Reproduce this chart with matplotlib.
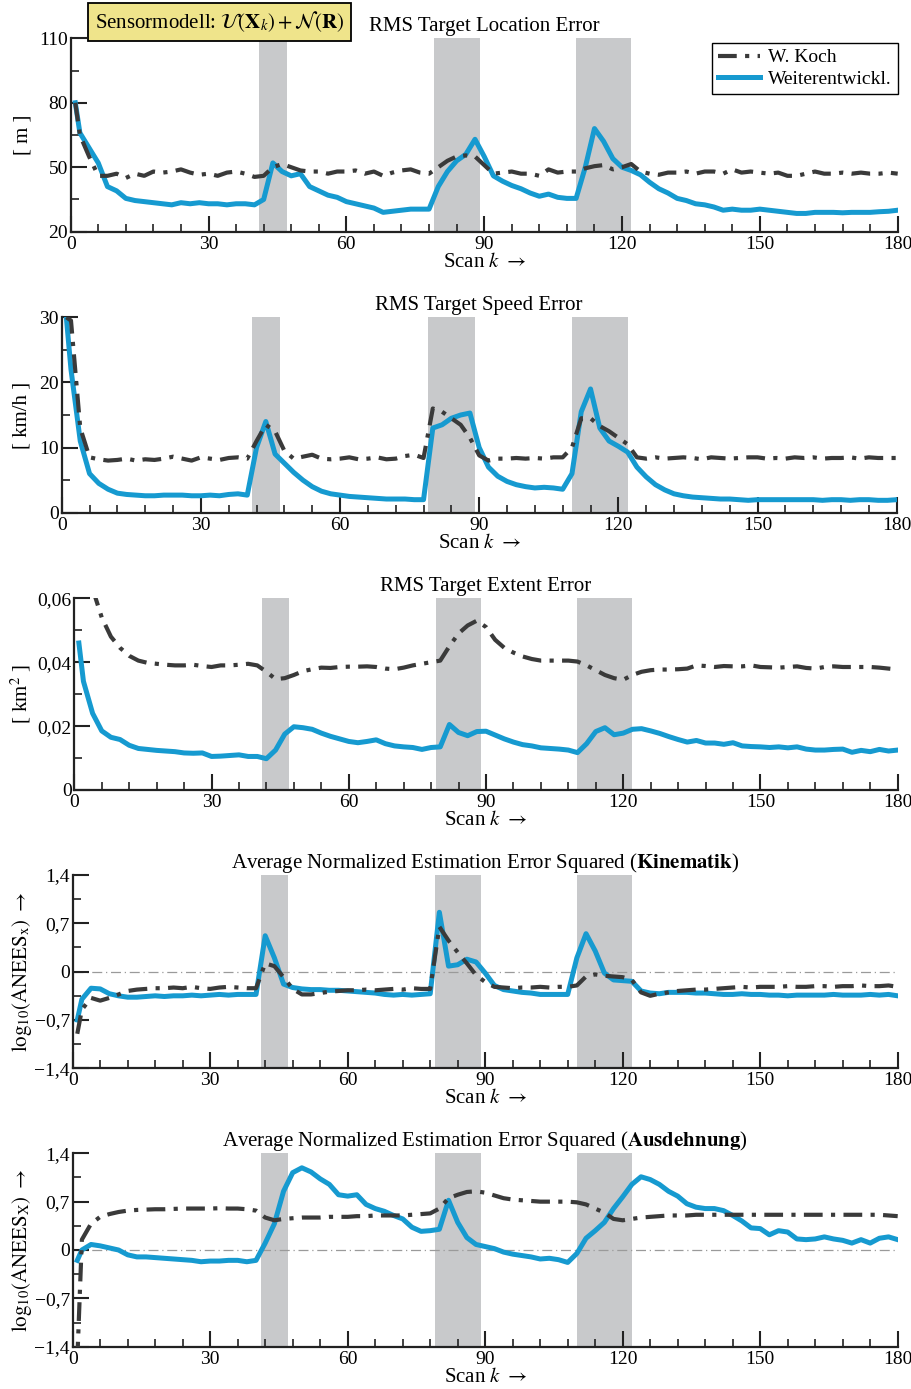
import numpy as np
import matplotlib.pyplot as plt
from matplotlib.ticker import FixedLocator

plt.rcParams['font.family'] = ['Liberation Serif', 'DejaVu Serif']
plt.rcParams['mathtext.fontset'] = 'stix'

# scan index (every 2nd scan)
scans = [1] + list(range(2, 181, 2))

# shaded intervals (scans)
shade = [(41, 47), (79, 89), (110, 122)]

# RMS location error [m]
loc_koch = [80, 65, 55, 46, 46, 47, 45, 47, 46, 48,
            47.5, 48, 49, 47.5, 46.5, 47, 46, 47.5, 48, 47,
            45.5, 46, 50, 51.5, 50, 48.5, 48, 48, 47, 48,
            48, 48.5, 47, 48, 46, 47.5, 48.5, 49, 47.5, 47,
            50, 53, 55, 55.5, 55, 51, 47, 47.5, 48, 47,
            47, 46, 49, 47.5, 48, 48, 49.5, 50.5, 51, 49,
            50, 51.5, 48, 47, 46.5, 47.5, 47.5, 48, 47, 48,
            48, 47, 49, 47.5, 48, 47.5, 47, 47.5, 46, 46,
            47, 48, 47, 47, 47.5, 47, 47.5, 47, 47, 47.5,
            47]
loc_new = [80, 66, 59, 52, 41, 39, 35.5, 34.5, 34, 33.5,
           33, 32.5, 33.5, 33, 33.5, 33, 33, 32.5, 33, 33,
           32.5, 35, 52, 48, 46, 47, 41, 39, 37, 36,
           34, 33, 32, 31, 29, 29.5, 30, 30.5, 30.5, 30.5,
           41, 48, 53, 56, 63, 55, 46, 43.5, 41.5, 40,
           38, 36.5, 37.5, 36, 35.5, 35.5, 50, 68, 62, 54,
           50, 48.5, 46.5, 43, 40, 38, 35.5, 34.5, 33, 32.5,
           31.5, 30, 30.5, 30, 30, 30.5, 30, 29.5, 29, 28.5,
           28.5, 29, 29, 29, 28.8, 29, 29, 29, 29.3, 29.5,
           30]

# RMS speed error [km/h]
spd_koch = [30, 29.5, 13, 8.5, 8.2, 8.0, 8.1, 8.3, 8.0, 8.2,
            8.1, 8.3, 8.6, 8.3, 8.0, 8.5, 8.3, 8.1, 8.4, 8.5,
            8.3, 11, 13.5, 12.5, 9.5, 8.3, 8.6, 8.9, 8.3, 8.2,
            8.3, 8.5, 8.2, 8.3, 8.5, 8.2, 8.3, 8.7, 8.9, 8.4,
            16, 15.5, 14.5, 13.5, 11.5, 8.8, 8.0, 8.3, 8.3, 8.4,
            8.3, 8.4, 8.3, 8.5, 8.5, 10, 14.5, 14.5, 13.3, 12.5,
            11.5, 10.5, 8.5, 8.3, 8.5, 8.3, 8.4, 8.5, 8.4, 8.2,
            8.5, 8.4, 8.3, 8.4, 8.5, 8.5, 8.3, 8.4, 8.3, 8.5,
            8.4, 8.5, 8.3, 8.4, 8.4, 8.5, 8.3, 8.5, 8.4, 8.4,
            8.4]
spd_new = [30, 22, 11, 6, 4.5, 3.6, 3, 2.8, 2.7, 2.6,
           2.6, 2.7, 2.7, 2.7, 2.6, 2.6, 2.7, 2.6, 2.8, 2.9,
           2.7, 10, 14, 9, 7.6, 6.2, 5.0, 4, 3.3, 2.9,
           2.7, 2.5, 2.4, 2.3, 2.2, 2.1, 2.1, 2.1, 2.0, 2.0,
           13, 13.5, 14.5, 15, 15.3, 10, 7, 5.6, 4.8, 4.3,
           4, 3.8, 3.9, 3.8, 3.6, 6, 15.5, 19, 13, 11,
           10.2, 9.3, 7, 5.5, 4.3, 3.5, 2.9, 2.6, 2.4, 2.3,
           2.2, 2.1, 2.1, 2.0, 1.9, 2.0, 2.0, 2.0, 2.0, 2.0,
           2.0, 2.0, 1.9, 2.0, 2.0, 1.9, 2.0, 2.0, 1.9, 1.9,
           2.0]

# RMS extent error [km^2]
ext_koch = [0.075, 0.07, 0.063, 0.054, 0.048, 0.0445, 0.042, 0.0405, 0.0398, 0.0395,
            0.0392, 0.039, 0.039, 0.0392, 0.0388, 0.0385, 0.039, 0.039, 0.0392, 0.0395,
            0.039, 0.037, 0.0347, 0.035, 0.036, 0.0372, 0.0378, 0.0383, 0.0382, 0.0385,
            0.0386, 0.0386, 0.0387, 0.0385, 0.038, 0.0378, 0.0383, 0.039, 0.0395, 0.04,
            0.0405, 0.045, 0.049, 0.0515, 0.053, 0.051, 0.047, 0.0445, 0.043, 0.0418,
            0.041, 0.0405, 0.0405, 0.0405, 0.0405, 0.0402, 0.039, 0.0375, 0.036, 0.035,
            0.0345, 0.036, 0.037, 0.0375, 0.0377, 0.0377, 0.0378, 0.038, 0.039, 0.0388,
            0.0385, 0.0388, 0.0387, 0.0387, 0.039, 0.0385, 0.0384, 0.0383, 0.0385, 0.0387,
            0.0382, 0.038, 0.0385, 0.0387, 0.0385, 0.0385, 0.0385, 0.0385, 0.0383, 0.038,
            0.0377]
ext_new = [0.046, 0.034, 0.024, 0.0185, 0.0165, 0.0158, 0.014, 0.013, 0.0127, 0.0124,
           0.0122, 0.012, 0.0116, 0.0115, 0.0116, 0.0105, 0.0106, 0.0108, 0.011, 0.0105,
           0.0105, 0.0098, 0.0125, 0.0175, 0.0198, 0.0195, 0.019, 0.0178, 0.0168, 0.016,
           0.0152, 0.0148, 0.0152, 0.0157, 0.0145, 0.0138, 0.0135, 0.0133, 0.0127, 0.0133,
           0.0135, 0.0205, 0.018, 0.017, 0.0183, 0.0184, 0.0172, 0.016, 0.015, 0.0142,
           0.0138, 0.0132, 0.013, 0.0128, 0.0125, 0.0117, 0.0145, 0.0183, 0.0195, 0.0173,
           0.0178, 0.019, 0.0192, 0.0185, 0.0177, 0.0167, 0.0158, 0.015, 0.0155, 0.0147,
           0.0147, 0.0143, 0.0148, 0.0138, 0.0136, 0.0135, 0.0133, 0.0135, 0.0132, 0.0135,
           0.0128, 0.0125, 0.0125, 0.0127, 0.0128, 0.0118, 0.0124, 0.012, 0.0127, 0.0122,
           0.0125]

# log10 ANEES kinematics
kin_koch = [-0.9, -0.55, -0.38, -0.42, -0.38, -0.33, -0.28, -0.26, -0.25, -0.24,
            -0.24, -0.23, -0.24, -0.22, -0.24, -0.25, -0.23, -0.22, -0.23, -0.24,
            -0.24, 0.12, 0.08, -0.08, -0.25, -0.33, -0.33, -0.31, -0.29, -0.28,
            -0.27, -0.27, -0.26, -0.27, -0.26, -0.25, -0.26, -0.24, -0.25, -0.25,
            0.65, 0.45, 0.28, 0.12, -0.05, -0.15, -0.22, -0.23, -0.24, -0.23,
            -0.23, -0.22, -0.23, -0.22, -0.22, -0.2, -0.07, -0.04, -0.06, -0.07,
            -0.08, -0.12, -0.3, -0.35, -0.32, -0.3, -0.28, -0.27, -0.26, -0.26,
            -0.25, -0.24, -0.23, -0.22, -0.23, -0.22, -0.22, -0.22, -0.21, -0.22,
            -0.22, -0.21, -0.21, -0.22, -0.21, -0.21, -0.2, -0.21, -0.21, -0.2,
            -0.22]
kin_new = [-0.7, -0.4, -0.24, -0.25, -0.32, -0.35, -0.37, -0.37, -0.36, -0.35,
           -0.36, -0.35, -0.35, -0.34, -0.35, -0.34, -0.33, -0.34, -0.33, -0.33,
           -0.33, 0.52, 0.2, -0.18, -0.23, -0.25, -0.26, -0.26, -0.27, -0.27,
           -0.28, -0.29, -0.3, -0.31, -0.33, -0.34, -0.33, -0.34, -0.33, -0.32,
           0.86, 0.08, 0.1, 0.18, 0.14, -0.02, -0.2, -0.26, -0.28, -0.3,
           -0.31, -0.33, -0.33, -0.33, -0.33, 0.2, 0.55, 0.3, -0.02, -0.12,
           -0.13, -0.14, -0.28, -0.31, -0.32, -0.3, -0.3, -0.3, -0.31, -0.31,
           -0.32, -0.33, -0.33, -0.32, -0.33, -0.33, -0.34, -0.34, -0.35, -0.34,
           -0.34, -0.34, -0.34, -0.33, -0.34, -0.34, -0.34, -0.33, -0.34, -0.33,
           -0.35]

# log10 ANEES extent
aus_koch = [-1.6, 0.15, 0.38, 0.48, 0.52, 0.55, 0.57, 0.58, 0.585, 0.59,
            0.59, 0.595, 0.6, 0.6, 0.6, 0.6, 0.605, 0.6, 0.6, 0.59,
            0.57, 0.47, 0.43, 0.45, 0.46, 0.47, 0.47, 0.47, 0.48, 0.48,
            0.48, 0.49, 0.49, 0.5, 0.5, 0.5, 0.5, 0.51, 0.52, 0.53,
            0.6, 0.75, 0.8, 0.84, 0.85, 0.83, 0.79, 0.75, 0.73, 0.72,
            0.71, 0.7, 0.7, 0.7, 0.7, 0.69, 0.66, 0.6, 0.54, 0.45,
            0.43, 0.45, 0.47, 0.48, 0.49, 0.5, 0.5, 0.5, 0.51, 0.51,
            0.51, 0.51, 0.51, 0.51, 0.51, 0.51, 0.51, 0.51, 0.51, 0.51,
            0.51, 0.51, 0.51, 0.51, 0.51, 0.51, 0.51, 0.51, 0.51, 0.5,
            0.49]
aus_new = [-0.15, 0.0, 0.08, 0.06, 0.03, 0.0, -0.07, -0.1, -0.1, -0.11,
           -0.12, -0.13, -0.14, -0.15, -0.17, -0.16, -0.16, -0.15, -0.15, -0.17,
           -0.15, 0.1, 0.38, 0.85, 1.12, 1.19, 1.13, 1.03, 0.95, 0.8,
           0.78, 0.8, 0.66, 0.6, 0.56, 0.5, 0.45, 0.33, 0.27, 0.28,
           0.3, 0.72, 0.4, 0.18, 0.08, 0.05, 0.02, -0.03, -0.06, -0.08,
           -0.1, -0.13, -0.12, -0.14, -0.18, -0.05, 0.17, 0.28, 0.4, 0.6,
           0.77, 0.95, 1.06, 1.02, 0.95, 0.85, 0.78, 0.67, 0.62, 0.6,
           0.6, 0.57, 0.5, 0.42, 0.32, 0.31, 0.22, 0.28, 0.26, 0.16,
           0.15, 0.16, 0.19, 0.16, 0.14, 0.1, 0.15, 0.1, 0.17, 0.19,
           0.15]

anees_ticks = [-1.4, -0.7, 0, 0.7, 1.4]
anees_labels = ['\u22121,4', '\u22120,7', '0', '0,7', '1,4']

panels = [
    dict(koch=loc_koch, new=loc_new, box=(70.7, 897.7, 38.3, 231.7), ylim=(20, 110),
         yt=[20, 50, 80, 110], ytl=['20', '50', '80', '110'], ym=[35, 65, 95],
         ylabel='[ m ]', title='RMS Target Location Error', lx=32),
    dict(koch=spd_koch, new=spd_new, box=(61.7, 896.7, 317.3, 512.7), ylim=(0, 30),
         yt=[0, 10, 20, 30], ytl=['0', '10', '20', '30'], ym=[5, 15, 25],
         ylabel='[ km/h ]', title='RMS Target Speed Error', lx=32),
    dict(koch=ext_koch, new=ext_new, box=(74.3, 897.7, 598.3, 790), ylim=(0, 0.06),
         yt=[0, 0.02, 0.04, 0.06], ytl=['0', '0,02', '0,04', '0,06'], ym=[0.01, 0.03, 0.05],
         ylabel='[ km$^2$ ]', title='RMS Target Extent Error', lx=33),
    dict(koch=kin_koch, new=kin_new, box=(72.7, 897.7, 875, 1068.3), ylim=(-1.4, 1.4),
         yt=anees_ticks, ytl=anees_labels, ym=[-1.05, -0.35, 0.35, 1.05],
         ylabel=r'$\mathrm{log}_{10}(\mathrm{ANEES}_{\mathrm{x}})\ \rightarrow$',
         title=r'Average Normalized Estimation Error Squared ($\mathbf{Kinematik}$)', lx=34),
    dict(koch=aus_koch, new=aus_new, box=(72.7, 897.7, 1153.3, 1346.7), ylim=(-1.4, 1.4),
         yt=anees_ticks, ytl=anees_labels, ym=[-1.05, -0.35, 0.35, 1.05],
         ylabel=r'$\mathrm{log}_{10}(\mathrm{ANEES}_{\mathrm{X}})\ \rightarrow$',
         title=r'Average Normalized Estimation Error Squared ($\mathbf{Ausdehnung}$)', lx=34),
]

W, H = 912, 1389
fig = plt.figure(figsize=(W / 100, H / 100), dpi=100)

blue = '#169ad0'
dark = '#3a3a3a'
axcol = '#222222'

for i, p in enumerate(panels):
    l, r, t, b = p['box']
    ax = fig.add_axes([l / W, 1 - b / H, (r - l) / W, (b - t) / H])
    for a, e in shade:
        ax.axvspan(a, e, color='#c8c9cb', lw=0, zorder=0)
    if p['ylim'][0] < 0:
        ax.axhline(0, color='#9a9a9a', lw=0.9, ls=(0, (8, 3, 1, 3)), zorder=1)
    ax.plot(scans, p['new'], color=blue, lw=3.6, solid_joinstyle='round',
            label='Weiterentwickl.', zorder=3)
    ax.plot(scans, p['koch'], color=dark, lw=3.0, ls=(0, (4.5, 2, 1, 2)),
            label='W. Koch', zorder=4)
    ax.set_xlim(0, 180)
    ax.set_ylim(*p['ylim'])
    ax.set_xticks(range(0, 181, 30))
    ax.xaxis.set_minor_locator(FixedLocator(range(0, 181, 6)))
    ax.set_yticks(p['yt'])
    ax.set_yticklabels(p['ytl'])
    ax.yaxis.set_minor_locator(FixedLocator(p['ym']))
    for s in ['top', 'right']:
        ax.spines[s].set_visible(False)
    for s in ['left', 'bottom']:
        ax.spines[s].set_linewidth(1.6)
        ax.spines[s].set_color(axcol)
    ax.tick_params(which='major', direction='in', length=11.5, width=1.5,
                   color=axcol, labelsize=14, pad=3)
    ax.tick_params(which='minor', direction='in', length=5.5, width=1.2, color=axcol)
    ax.tick_params(axis='y', pad=2)
    ax.set_title(p['title'], fontsize=15, pad=5)
    ax.set_xlabel(r'Scan $k$ $\rightarrow$', fontsize=15, labelpad=0)
    ax.set_ylabel(p['ylabel'], fontsize=15)
    ax.yaxis.set_label_coords((p['lx'] - l) / (r - l), 0.5)
    if i == 0:
        h, lab = ax.get_legend_handles_labels()
        leg = ax.legend(h[::-1], lab[::-1], loc='upper right', bbox_to_anchor=(1.0, 0.976),
                        borderaxespad=0, fontsize=14, handlelength=2.2,
                        fancybox=False, framealpha=1, edgecolor='black',
                        borderpad=0.3, labelspacing=0.2, handletextpad=0.4)
        leg.get_frame().set_linewidth(1.0)

fig.text(219.5 / W, 1 - 22 / H,
         r'Sensormodell: $\mathcal{U}(\mathbf{X}_k)+\mathcal{N}(\mathbf{R})$',
         ha='center', va='center', fontsize=15,
         bbox=dict(boxstyle='square,pad=0.3', fc='#efe48b', ec='black', lw=1.3))

fig.savefig('out.png', dpi=100)
